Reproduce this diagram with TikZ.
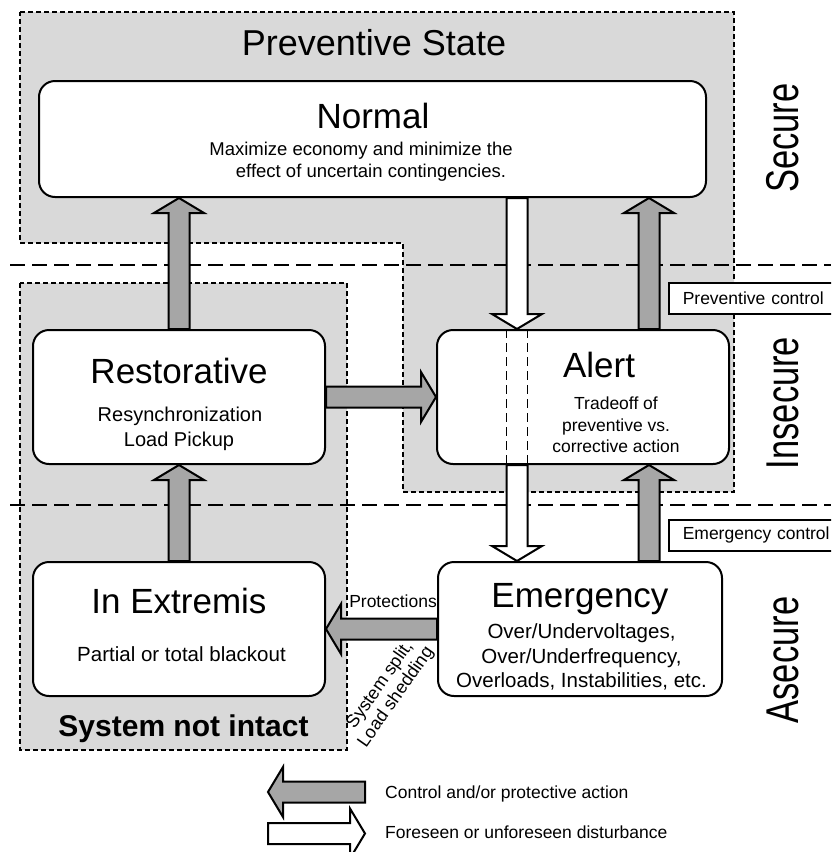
\documentclass[tikz,border=0pt]{standalone}
\usepackage{fontspec}
\usepackage{graphicx}
\setmainfont{Liberation Sans}
\usetikzlibrary{calc}

\definecolor{zonegray}{HTML}{D9D9D9}
\definecolor{actgray}{HTML}{A6A6A6}

\tikzset{
  statebox/.style={draw=black, line width=2pt, fill=white, rounded corners=16pt,
                   inner sep=0pt},
  zone/.style={draw=black, line width=1.3pt, dash pattern=on 5pt off 3pt, fill=zonegray},
  level/.style={draw=black, line width=1.5pt, dash pattern=on 15pt off 7pt},
  passthru/.style={draw=black, line width=1.5pt, dash pattern=on 9pt off 5pt},
  action/.style={draw=black, line width=2pt, fill=actgray, line join=miter},
  disturb/.style={draw=black, line width=2pt, fill=white, line join=miter},
  title/.style={font=\fontsize{35}{40}\selectfont, anchor=base, inner sep=0pt},
  bigsub/.style={font=\fontsize{20.5}{24}\selectfont, anchor=base, inner sep=0pt},
  smallsub/.style={font=\fontsize{17.5}{21}\selectfont, anchor=base, inner sep=0pt},
  slanted/.style={rotate=55, anchor=base, inner sep=0pt, font=\fontsize{18}{20}\selectfont},
  ctrlbox/.style={draw=black, line width=1.5pt, fill=white, anchor=north west,
                  minimum height=31pt, inner xsep=14pt, inner ysep=0pt,
                  text width=150pt, align=left, font=\fontsize{17.5}{20}\selectfont},
  levellabel/.style={rotate=90, inner sep=0pt, font=\fontsize{46}{50}\selectfont},
}

% block arrows: #1 style, #2 tail anchor, #3 tip anchor
\newcommand{\blockup}[3]{\path[#1] ($(#2)+(-10.5,0)$) -- ($(#3)+(-10.5,15)$) -- ($(#3)+(-25,15)$) -- (#3) -- ($(#3)+(25,15)$) -- ($(#3)+(10.5,15)$) -- ($(#2)+(10.5,0)$) -- cycle;}
\newcommand{\blockdown}[3]{\path[#1] ($(#2)+(-10.5,0)$) -- ($(#3)+(-10.5,-15)$) -- ($(#3)+(-25,-15)$) -- (#3) -- ($(#3)+(25,-15)$) -- ($(#3)+(10.5,-15)$) -- ($(#2)+(10.5,0)$) -- cycle;}
\newcommand{\blockleft}[3]{\path[#1] ($(#2)+(0,-10.5)$) -- ($(#3)+(15,-10.5)$) -- ($(#3)+(15,-25)$) -- (#3) -- ($(#3)+(15,25)$) -- ($(#3)+(15,10.5)$) -- ($(#2)+(0,10.5)$) -- cycle;}
\newcommand{\blockright}[3]{\path[#1] ($(#2)+(0,-10.5)$) -- ($(#3)+(-15,-10.5)$) -- ($(#3)+(-15,-25)$) -- (#3) -- ($(#3)+(-15,25)$) -- ($(#3)+(-15,10.5)$) -- ($(#2)+(0,10.5)$) -- cycle;}

\begin{document}
\begin{tikzpicture}[x=1pt, y=-1pt]
\useasboundingbox (0,0) rectangle (831,852);
\clip (0,0) rectangle (831,852);
\fill[white] (0,0) rectangle (831,852);

% shaded zones
\draw[zone] (20,12) -- (734,12) -- (734,492) -- (403,492) -- (403,243) -- (20,243) -- cycle;
\draw[zone] (20,283) rectangle (347,750);

% security level separators
\draw[level] (10,265) -- (831,265);
\draw[level] (10,505) -- (831,505);

% zone captions
\node[font=\fontsize{36}{40}\selectfont, anchor=base, inner sep=0pt] (prevstate) at (374,55) {Preventive State};
\node[font=\fontsize{30}{34}\selectfont\bfseries, anchor=base, inner sep=0pt] (notintact) at (183.5,736) {System not intact};

% operating states
\node[statebox, minimum width=667pt, minimum height=116pt] (normal) at (372.5,139) {};
\node[statebox, minimum width=292pt, minimum height=134pt] (restorative) at (179,397) {};
\node[statebox, minimum width=292pt, minimum height=134pt] (alert) at (583,397) {};
\node[statebox, minimum width=292pt, minimum height=134pt] (extremis) at (179,629) {};
\node[statebox, minimum width=284pt, minimum height=134pt] (emergency) at (580,629) {};

% state texts
\node[title] (normalT) at (373,128) {Normal};
\node[font=\fontsize{18.5}{22}\selectfont, anchor=base, inner sep=0pt] (normalS1) at (361,155) {Maximize economy and minimize the};
\node[font=\fontsize{18.5}{22}\selectfont, anchor=base, inner sep=0pt] (normalS2) at (371,177) {effect of uncertain contingencies.};

\node[title] (restT) at (179,383) {Restorative};
\node[font=\fontsize{20}{24}\selectfont, anchor=base, inner sep=0pt] (restS1) at (180,421) {Resynchronization};
\node[font=\fontsize{20}{24}\selectfont, anchor=base, inner sep=0pt] (restS2) at (179,446) {Load Pickup};

\node[title] (alertT) at (599,377) {Alert};
\node[smallsub] (alertS1) at (616,409) {Tradeoff of};
\node[smallsub] (alertS2) at (616,431) {preventive vs.};
\node[smallsub] (alertS3) at (616,452) {corrective action};

\node[title] (extT) at (179,613) {In Extremis};
\node[bigsub] (extS1) at (181.5,661) {Partial or total blackout};

\node[title] (emT) at (580,607) {Emergency};
\node[bigsub] (emS1) at (581.5,638) {Over/Undervoltages,};
\node[bigsub] (emS2) at (581.5,663) {Over/Underfrequency,};
\node[bigsub] (emS3) at (581.5,687) {Overloads, Instabilities, etc.};

% anchor points of the transitions
\coordinate (dn) at ($(alert.north west)+(81,0)$);
\coordinate (ga) at ($(alert.north west)+(213,0)$);
\coordinate (rnTip) at (restorative.north |- normal.south);
\coordinate (nAlertTail) at (dn |- normal.south);
\coordinate (aNormTip) at (ga |- normal.south);
\coordinate (aEmTail) at (dn |- alert.south);
\coordinate (aEmTip) at (dn |- emergency.north);
\coordinate (eaTail) at (ga |- emergency.north);
\coordinate (eaTip) at (ga |- alert.south);
\coordinate (exTip) at (emergency.west -| extremis.east);

% transitions
\blockup{action}{restorative.north}{rnTip}
\blockup{action}{extremis.north}{restorative.south}
\blockright{action}{restorative.east}{alert.west}
\blockup{action}{ga}{aNormTip}
\blockup{action}{eaTail}{eaTip}
\blockleft{action}{emergency.west}{exTip}
\blockdown{disturb}{nAlertTail}{dn}
\blockdown{disturb}{aEmTail}{aEmTip}

% direct disturbance path through the alert state
\draw[passthru] ($(dn)+(-10.5,0)$) -- ($(aEmTail)+(-10.5,0)$);
\draw[passthru] ($(dn)+(10.5,0)$) -- ($(aEmTail)+(10.5,0)$);

% transition labels
\node[font=\fontsize{17.5}{20}\selectfont, anchor=base east, inner sep=0pt] (prot) at (437,607) {Protections};
\node[slanted] (split1) at (384,688) {System split,};
\node[slanted] (split2) at (400,700) {Load shedding};

% control tags
\node[ctrlbox] (prevctrl) at (668,282) {Preventive control};
\node[ctrlbox] (emctrl) at (668,519) {Emergency control};

% security levels
\node[levellabel] (secure) at (783,138) {\scalebox{0.75}[1]{Secure}};
\node[levellabel] (insecure) at (783,403) {\scalebox{0.75}[1]{Insecure}};
\node[levellabel] (asecure) at (783,660) {\scalebox{0.75}[1]{Asecure}};

% legend
\coordinate (lgA1) at (365,792);
\coordinate (lgA2) at (268,792);
\coordinate (lgD1) at (268,833.5);
\coordinate (lgD2) at (365,833.5);
\blockleft{action}{lgA1}{lgA2}
\blockright{disturb}{lgD1}{lgD2}
\node[font=\fontsize{17.5}{20}\selectfont, anchor=base west, inner sep=0pt] (lgAT) at (385,798) {Control and/or protective action};
\node[font=\fontsize{17.5}{20}\selectfont, anchor=base west, inner sep=0pt] (lgDT) at (385,838) {Foreseen or unforeseen disturbance};
\end{tikzpicture}
\end{document}
